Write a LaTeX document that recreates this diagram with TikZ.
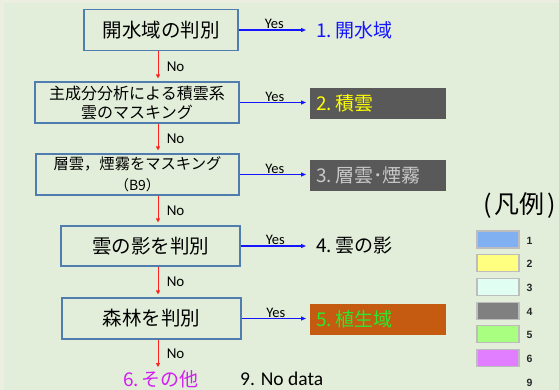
\documentclass[tikz,border=0pt]{standalone}
\usepackage{fontspec}
\setmainfont{Noto Sans CJK JP}
\newfontfamily\calfont{Carlito}
\newfontfamily\arifont{Liberation Sans}
\usetikzlibrary{arrows.meta}
\definecolor{bgout}{HTML}{ECEFE0}
\definecolor{bgin}{HTML}{E2EEDA}
\definecolor{boxline}{HTML}{4F7DB0}
\definecolor{redc}{HTML}{FF2020}
\definecolor{bluec}{HTML}{1515FF}
\definecolor{dgray}{HTML}{595959}
\definecolor{yelc}{HTML}{FFFF00}
\definecolor{lgray}{HTML}{C8C8C8}
\definecolor{orangec}{HTML}{C55A11}
\definecolor{greenc}{HTML}{2EE62E}
\definecolor{magc}{HTML}{D21EF0}
\definecolor{leg1}{HTML}{80B0F2}
\definecolor{leg2}{HTML}{FFFF80}
\definecolor{leg3}{HTML}{E0FFF2}
\definecolor{leg4}{HTML}{808080}
\definecolor{leg5}{HTML}{A8FF80}
\definecolor{leg6}{HTML}{E07EFF}
\definecolor{legline}{HTML}{BDBDBD}
\begin{document}
\begin{tikzpicture}[x=1pt,y=-1pt,
  stepbox/.style={draw=boxline, line width=1.2pt, minimum height=41pt, inner sep=0pt, align=center},
  res/.style={anchor=west, minimum width=136pt, minimum height=31pt, inner xsep=6pt, inner ysep=0pt, text width=124pt, align=left, font=\fontsize{19}{22}\selectfont},
  noarr/.style={draw=redc, line width=0.9pt, -{Triangle[length=4pt,width=4pt]}, shorten >=3pt},
  yesarr/.style={draw=bluec, line width=1.1pt, -{Triangle[length=5pt,width=4pt]}, shorten >=4pt},
  nolab/.style={font=\calfont\fontsize{15}{18}\selectfont, anchor=west, xshift=5pt},
  yeslab/.style={font=\calfont\fontsize{14.5}{16}\selectfont, above, inner sep=0.5pt},
  legbox/.style={draw=legline, line width=1.2pt, minimum width=42pt, minimum height=17pt, inner sep=0pt},
  leglab/.style={font=\arifont\bfseries\fontsize{10.5}{12}\selectfont, text=black!85, anchor=center, inner sep=0pt}
]
\useasboundingbox (0,0) rectangle (559,390);
\fill[bgout] (0,0) rectangle (559,390);
\fill[bgin] (4,3) rectangle (559,390);

% process boxes
\node[stepbox, minimum width=154pt, font=\fontsize{19.5}{22}\selectfont] (b1) at (161,30) {開水域の判別};
\node[stepbox, minimum width=204pt, font=\fontsize{16}{19}\selectfont] (b2) at (137,102.5) {主成分分析による積雲系\\雲のマスキング};
\node[stepbox, minimum width=203pt, font=\fontsize{15.3}{21}\selectfont] (b3) at (137.5,174.5) {層雲，煙霧をマスキング\\{\fontsize{14}{21}\selectfont（B9）}};
\node[stepbox, minimum width=179pt, minimum height=40pt, font=\fontsize{19.5}{22}\selectfont] (b4) at (150.5,246) {雲の影を判別};
\node[stepbox, minimum width=179pt, font=\fontsize{19.5}{22}\selectfont] (b5) at (151.5,318.5) {森林を判別};

% results
\node[res, text=bluec] (r1) at (310,30) {1.\hspace{3pt}開水域};
\node[res, fill=dgray, text=yelc] (r2) at (310,103.5) {2.\hspace{3pt}積雲};
\node[res, fill=dgray, text=lgray] (r3) at (310,175.5) {3.\hspace{3pt}層雲･煙霧};
\node[res] (r4) at (310,246) {4.\hspace{3pt}雲の影};
\node[res, fill=orangec, text=greenc] (r5) at (310,319.5) {5.\hspace{3pt}植生域};

% yes arrows
\draw[yesarr] (b1.east) -- (b1.east -| r1.west) node[yeslab, midway] {Yes};
\draw[yesarr] (b2.east) -- (b2.east -| r2.west) node[yeslab, midway] {Yes};
\draw[yesarr] (b3.east) -- (b3.east -| r3.west) node[yeslab, midway] {Yes};
\draw[yesarr] (b4.east) -- (b4.east -| r4.west) node[yeslab, midway] {Yes};
\draw[yesarr] (b5.east) -- (b5.east -| r5.west) node[yeslab, midway] {Yes};

% no arrows
\coordinate (ax) at (158,0);
\coordinate (endo) at (158,367);
\draw[noarr] (b1.south -| ax) -- (b2.north -| ax) node[nolab, midway] {No};
\draw[noarr] (b2.south -| ax) -- (b3.north -| ax) node[nolab, midway] {No};
\draw[noarr] (b3.south -| ax) -- (b4.north -| ax) node[nolab, midway] {No};
\draw[noarr] (b4.south -| ax) -- (b5.north -| ax) node[nolab, midway] {No};
\draw[noarr, shorten >=0pt] (b5.south -| ax) -- (endo) node[nolab, midway] {No};

% bottom texts
\node[text=magc, font=\fontsize{19}{22}\selectfont, inner sep=0pt] (o6) at (161,379.5) {6.\hspace{3pt}その他};
\node[anchor=west, font=\calfont\fontsize{19.5}{22}\selectfont, inner sep=0pt] (o9) at (240,379) {9. No data};

% legend
\node[font=\fontsize{25}{28}\selectfont, inner sep=0pt] (leg) at (519.5,205) {(\kern3pt 凡例\kern3pt)};
\node[legbox, fill=leg1] (l1) at (498,239.5) {};
\node[legbox, fill=leg2] (l2) at (498,263.2) {};
\node[legbox, fill=leg3] (l3) at (498,286.9) {};
\node[legbox, fill=leg4] (l4) at (498,310.6) {};
\node[legbox, fill=leg5] (l5) at (498,334.3) {};
\node[legbox, fill=leg6] (l6) at (498,358) {};
\node[leglab] (t1) at (529.5,240.5) {1};
\node[leglab] (t2) at (529.5,264.2) {2};
\node[leglab] (t3) at (529.5,288) {3};
\node[leglab] (t4) at (529.5,311.6) {4};
\node[leglab] (t5) at (529.5,335.3) {5};
\node[leglab] (t6) at (529.5,359) {6};
\node[leglab] (t9) at (529.5,383) {9};
\end{tikzpicture}
\end{document}
